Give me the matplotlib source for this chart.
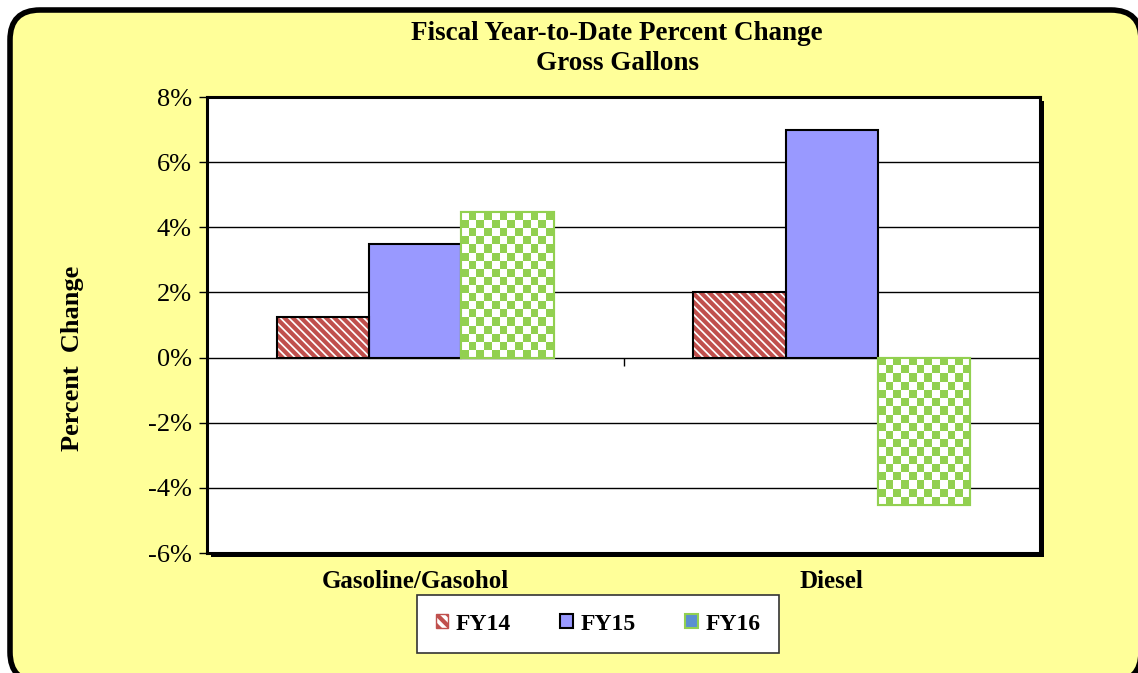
import numpy as np
import matplotlib
matplotlib.use("Agg")
import matplotlib.pyplot as plt
from matplotlib.patches import FancyBboxPatch, Rectangle, Patch

categories = ["Gasoline/Gasohol", "Diesel"]
series_names = ["FY14", "FY15", "FY16"]
fy14 = [1.25, 2.02]
fy15 = [3.50, 7.00]
fy16 = [4.47, -4.53]
yticks = [-6, -4, -2, 0, 2, 4, 6, 8]

plt.rcParams['font.family'] = ['Liberation Serif', 'DejaVu Serif']
plt.rcParams['hatch.linewidth'] = 3.0

RED = '#C0504D'
BLUE = '#9999FF'
GREEN = '#92D050'

W, H = 1138, 673
fig = plt.figure(figsize=(W / 100, H / 100), dpi=100, facecolor='white')

# rounded yellow background (inches coordinates)
bg = FancyBboxPatch((10 / 100, (H - 682) / 100), (1141 - 10) / 100, (682 - 10) / 100,
                    boxstyle="round,pad=0,rounding_size=0.3",
                    transform=fig.dpi_scale_trans, facecolor='#FFFF99',
                    edgecolor='black', linewidth=4.0, zorder=-5)
fig.add_artist(bg)

left, right, top, bottom = 207, 1040, 97, 553
ax = fig.add_axes([left / W, 1 - bottom / H, (right - left) / W, (bottom - top) / H])

# shadow of the plot frame
shadow = Rectangle(((left + 4) / W, 1 - (bottom + 4) / H), (right - left) / W, (bottom - top) / H,
                   transform=fig.transFigure, facecolor='black', edgecolor='none', zorder=-1)
fig.add_artist(shadow)

x = np.arange(len(categories))
bw = 0.222

ax.bar(x - bw, fy14, bw, facecolor='white', edgecolor=RED, linewidth=0,
       hatch='\\\\\\\\', zorder=3)
ax.bar(x - bw, fy14, bw, facecolor='none', edgecolor='black', linewidth=1.5, zorder=4)
ax.bar(x, fy15, bw, facecolor=BLUE, edgecolor='black', linewidth=1.5, zorder=3)
b16 = ax.bar(x + bw, fy16, bw, facecolor='white', edgecolor=GREEN, linewidth=1.5, zorder=3)

ax.set_xlim(-0.5, 1.5)
ax.set_ylim(-6, 8)

# checkerboard fill for FY16 bars
fig.canvas.draw()
sq = 8.0
green = np.array([0x92, 0xD0, 0x50]) / 255
for r in b16:
    bx, by, bwid, bh = r.get_x(), r.get_y(), r.get_width(), r.get_height()
    p0 = ax.transData.transform((bx, by))
    p1 = ax.transData.transform((bx + bwid, by + bh))
    nx = max(1, int(round(abs(p1[0] - p0[0]) / sq)))
    ny = max(1, int(round(abs(p1[1] - p0[1]) / sq)))
    board = (np.add.outer(np.arange(ny), np.arange(nx)) % 2)
    img = np.ones((ny, nx, 3))
    img[board == 1] = green
    ax.imshow(img, extent=(bx, bx + bwid, by, by + bh), origin='upper',
              interpolation='nearest', aspect='auto', zorder=3.5, clip_path=r)
ax.bar(x + bw, fy16, bw, facecolor='none', edgecolor=GREEN, linewidth=1.5, zorder=4)
ax.set_xlim(-0.5, 1.5)
ax.set_ylim(-6, 8)

ax.set_yticks(yticks)
ax.set_yticklabels([f"{v}%" for v in yticks], fontsize=19)
ax.yaxis.grid(True, color='black', linewidth=1.0, zorder=1)
ax.set_axisbelow(True)
ax.tick_params(axis='y', direction='out', length=6, width=1, pad=5)
ax.set_xticks(x)
ax.set_xticklabels(categories, fontsize=18, fontweight='bold')
ax.tick_params(axis='x', length=0, pad=12)
for s in ax.spines.values():
    s.set_linewidth(2.2)
    s.set_color('black')
    s.set_zorder(6)

# category separator tick on the zero line
ax.plot([0.5], [0], marker=3, markersize=6, color='black', mew=1, zorder=5)

fig.text(72 / W, 1 - 358 / H, "Percent  Change", rotation=90, ha='center', va='center',
         fontsize=19, fontweight='bold')

fig.text(617 / W, 1 - 33 / H, "Fiscal Year-to-Date Percent Change", ha='center', va='center',
         fontsize=19.5, fontweight='bold')
fig.text(617 / W, 1 - 64 / H, "Gross Gallons", ha='center', va='center',
         fontsize=19.5, fontweight='bold')

handles = [
    Patch(facecolor='white', edgecolor=RED, hatch='\\\\\\', linewidth=1),
    Patch(facecolor=BLUE, edgecolor='black', linewidth=1.5),
    Patch(facecolor='#5B8FD0', edgecolor=GREEN, linewidth=1.5),
]
leg = fig.legend(handles, series_names, loc='center', bbox_to_anchor=(598 / W, 1 - 624 / H),
                 ncol=3, prop={'weight': 'bold', 'size': 17}, frameon=True, framealpha=1,
                 fancybox=False, edgecolor='#333333', handlelength=0.55, handleheight=0.55,
                 handletextpad=0.3, columnspacing=2.1, borderpad=0.8, borderaxespad=0)
leg.get_frame().set_linewidth(1.2)
leg.get_frame().set_facecolor('white')

fig.savefig("out.png", dpi=100, facecolor=fig.get_facecolor())
